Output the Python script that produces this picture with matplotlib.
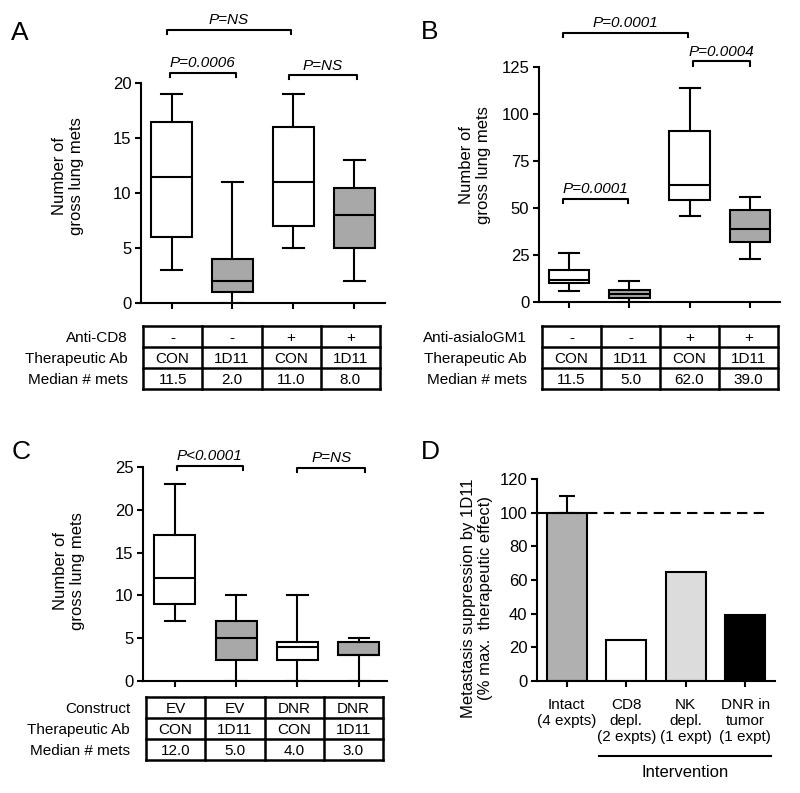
import matplotlib
matplotlib.use('Agg')
import matplotlib.pyplot as plt

plt.rcParams['font.family'] = ['Liberation Sans', 'DejaVu Sans']
plt.rcParams['font.size'] = 11

# ---- data ----
groups = [1, 2, 3, 4]
box_fills = ['white', '#a8a8a8', 'white', '#a8a8a8']

# A: anti-CD8
a_low = [3, 0, 5, 2]
a_q1 = [6, 1, 7, 5]
a_med = [11.5, 2, 11, 8]
a_q3 = [16.5, 4, 16, 10.5]
a_high = [19, 11, 19, 13]
a_names = ['Anti-CD8', 'Therapeutic Ab', 'Median # mets']
a_rows = [['-', '-', '+', '+'], ['CON', '1D11', 'CON', '1D11'], ['11.5', '2.0', '11.0', '8.0']]
a_pvals = [(0.92, 2.96, 24.8, 'P=NS'), (0.97, 2.05, 20.9, 'P=0.0006'), (2.93, 4.04, 20.7, 'P=NS')]

# B: anti-asialoGM1
b_low = [6, 0, 46, 23]
b_q1 = [10, 2.3, 54, 32]
b_med = [11.5, 4.5, 62, 39]
b_q3 = [17, 6.4, 91, 49]
b_high = [26, 11, 114, 56]
b_names = ['Anti-asialoGM1', 'Therapeutic Ab', 'Median # mets']
b_rows = [['-', '-', '+', '+'], ['CON', '1D11', 'CON', '1D11'], ['11.5', '5.0', '62.0', '39.0']]
b_pvals = [(0.90, 2.97, 143, 'P=0.0001'), (3.05, 4.0, 128, 'P=0.0004'), (0.90, 1.98, 54.8, 'P=0.0001')]

# C: construct
c_low = [7, 0, 0, 0]
c_q1 = [9, 2.5, 2.5, 3]
c_med = [12, 5, 4, 3]
c_q3 = [17, 7, 4.6, 4.6]
c_high = [23, 10, 10, 5]
c_names = ['Construct', 'Therapeutic Ab', 'Median # mets']
c_rows = [['EV', 'EV', 'DNR', 'DNR'], ['CON', '1D11', 'CON', '1D11'], ['12.0', '5.0', '4.0', '3.0']]
c_pvals = [(1.03, 2.11, 25.1, 'P<0.0001'), (3.0, 4.1, 24.9, 'P=NS')]

# D: summary
d_labels = ['Intact\n(4 expts)', 'CD8\ndepl.\n(2 expts)', 'NK\ndepl.\n(1 expt)', 'DNR in\ntumor\n(1 expt)']
d_values = [100, 24.5, 65, 39]
d_err = [10, 0, 0, 0]
d_colors = ['#b0b0b0', 'white', '#dcdcdc', 'black']

W, H = 800, 793
fig = plt.figure(figsize=(8, 7.93), dpi=100)


def rect(x0, y0, x1, y1):
    return [x0 / W, 1 - y1 / H, (x1 - x0) / W, (y1 - y0) / H]


def style(ax, ymax, step, xlim=(0.5, 4.5)):
    ax.set_ylim(0, ymax)
    ax.set_yticks(range(0, ymax + 1, step))
    ax.set_xlim(*xlim)
    ax.set_xticks(groups)
    ax.spines[['top', 'right']].set_visible(False)
    ax.spines[['left', 'bottom']].set_linewidth(1.5)
    ax.tick_params(width=1.5, length=4, labelsize=12, pad=3)


def boxes(ax, lo, q1, med, q3, hi):
    stats = [dict(whislo=a, q1=b, med=c, q3=d, whishi=e) for a, b, c, d, e in zip(lo, q1, med, q3, hi)]
    art = ax.bxp(stats, positions=groups, widths=0.67, showfliers=False, patch_artist=True,
                 boxprops=dict(lw=1.5, edgecolor='k'), medianprops=dict(color='k', lw=1.5),
                 whiskerprops=dict(lw=1.5), capprops=dict(lw=1.5))
    for p, f in zip(art['boxes'], box_fills):
        p.set_facecolor(f)
    ax.set_xticklabels([])


def brackets(ax, pvals, ymax):
    d = 0.018 * ymax
    for x0, x1, y, txt in pvals:
        ax.plot([x0, x0, x1, x1], [y - d, y, y, y - d], color='k', lw=1.5, clip_on=False)
        ax.annotate(txt, xy=((x0 + x1) / 2, y), xytext=(0, 2), textcoords='offset points',
                    ha='center', va='bottom', style='italic', fontsize=11, annotation_clip=False)


def table(x0, y0, x1, y1, names, rows, lab_x):
    tax = fig.add_axes(rect(x0, y0, x1, y1))
    tax.set_xlim(0, 4)
    tax.set_ylim(3, 0)
    tax.axis('off')
    for i in range(5):
        tax.plot([i, i], [0, 3], color='k', lw=1.8, clip_on=False, solid_capstyle='projecting')
    for j in range(4):
        tax.plot([0, 4], [j, j], color='k', lw=1.8, clip_on=False, solid_capstyle='projecting')
    rh = (y1 - y0) / 3
    for r, row in enumerate(rows):
        for c, v in enumerate(row):
            tax.text(c + 0.5, r + 0.55, v, ha='center', va='center', fontsize=11)
        fig.text(lab_x / W, 1 - (y0 + (r + 0.55) * rh) / H, names[r], ha='right', va='center', fontsize=11)


def ylabel(x, y, txt):
    fig.text(x / W, 1 - y / H, txt, rotation=90, ha='center', va='center', fontsize=12,
             multialignment='center', linespacing=1.15)


def letter(x, y, txt):
    fig.text(x / W, 1 - y / H, txt, ha='center', va='center', fontsize=19)


# panel A
axA = fig.add_axes(rect(141, 83, 385, 303))
boxes(axA, a_low, a_q1, a_med, a_q3, a_high)
style(axA, 20, 5)
brackets(axA, a_pvals, 20)
table(143, 326, 380, 389, a_names, a_rows, 128)
ylabel(68, 176, 'Number of\ngross lung mets')
letter(20, 33, 'A')

# panel B
axB = fig.add_axes(rect(539, 67, 780, 302))
boxes(axB, b_low, b_q1, b_med, b_q3, b_high)
style(axB, 125, 25)
brackets(axB, b_pvals, 125)
table(542, 326, 778, 389, b_names, b_rows, 527)
ylabel(475, 165, 'Number of\ngross lung mets')
letter(430, 32, 'B')

# panel C
axC = fig.add_axes(rect(143, 467, 387, 681))
boxes(axC, c_low, c_q1, c_med, c_q3, c_high)
style(axC, 25, 5, xlim=(0.48, 4.46))
brackets(axC, c_pvals, 25)
table(146, 697, 383, 760, c_names, c_rows, 130)
ylabel(69, 571, 'Number of\ngross lung mets')
letter(21, 452, 'C')

# panel D
axD = fig.add_axes(rect(537, 479, 775, 681))
axD.bar(groups, d_values, width=0.67, color=d_colors, edgecolor='k', lw=1.5, zorder=2)
for x, v, e in zip(groups, d_values, d_err):
    if e > 0:
        axD.errorbar(x, v, yerr=[[0], [e]], color='k', lw=1.5, capsize=6, capthick=1.5, zorder=1)
axD.plot([0.5, 4.33], [100, 100], color='k', lw=1.5, dashes=(5, 3), zorder=3)
style(axD, 120, 20)
axD.set_xticklabels(d_labels, fontsize=11)
axD.tick_params(axis='x', pad=8)
axD.plot([1.54, 4.44], [-44.5, -44.5], color='k', lw=1.5, clip_on=False)
axD.text(2.99, -54.5, 'Intervention', ha='center', va='center', fontsize=12)
ylabel(477, 598, 'Metastasis suppression by 1D11\n(% max.  therapeutic effect)')
letter(430, 452, 'D')

fig.savefig('out.png', dpi=100, facecolor='white')
